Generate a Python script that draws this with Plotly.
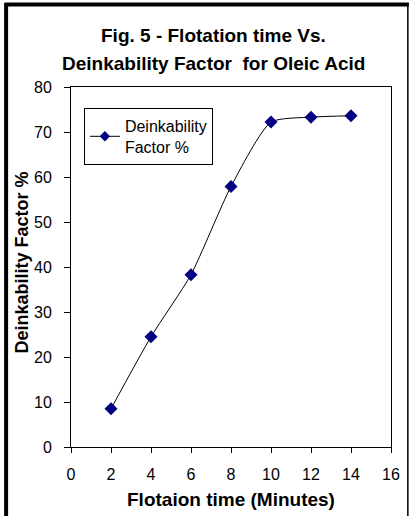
import plotly.graph_objects as go

flotation_time = [2, 4, 6, 8, 10, 12, 14]
deinkability = [8.5, 24.5, 38.3, 57.9, 72.2, 73.3, 73.6]
series_name = "Deinkability<br>Factor %"
x_ticks = [0, 2, 4, 6, 8, 10, 12, 14, 16]
y_ticks = [0, 10, 20, 30, 40, 50, 60, 70, 80]

W, H = 412, 516
L, R, T, B = 71, 18, 87, 69
pw, ph = W - L - R, H - T - B

def px(xp):
    return (xp - L) / pw

def py(yp):
    return (H - B - yp) / ph

fig = go.Figure()
fig.add_trace(go.Scatter(
    x=flotation_time, y=deinkability, name=series_name,
    mode="lines+markers",
    line=dict(color="black", width=1, shape="spline", smoothing=0.6),
    marker=dict(symbol="diamond", color="#000080", size=10),
    showlegend=False,
))
# legend entry (smaller marker, as in the original legend)
fig.add_trace(go.Scatter(
    x=[None], y=[None], name=series_name, mode="lines+markers",
    line=dict(color="black", width=1),
    marker=dict(symbol="diamond", color="#000080", size=8),
    showlegend=True,
))

font = "Arial, 'Liberation Sans', sans-serif"

def ann(text, x, y, size, angle=0):
    return dict(text=text, x=px(x), y=py(y), xref="paper", yref="paper",
                xanchor="center", yanchor="middle", showarrow=False,
                textangle=angle, font=dict(size=size))

fig.update_layout(
    width=W, height=H,
    margin=dict(l=L, r=R, t=T, b=B),
    paper_bgcolor="white", plot_bgcolor="white",
    font=dict(family=font, color="black", size=16),
    showlegend=True,
    legend=dict(x=px(84), y=py(108), xanchor="left", yanchor="top",
                bordercolor="black", borderwidth=1, bgcolor="white",
                font=dict(size=16), itemwidth=30, tracegroupgap=0),
    xaxis=dict(range=[0, 16], tickvals=x_ticks, showgrid=False, zeroline=False,
               showline=True, linecolor="black", linewidth=1, mirror=True,
               ticks="outside", ticklen=5, tickcolor="black",
               ticklabelstandoff=8, tickfont=dict(size=16)),
    yaxis=dict(range=[0, 80], tickvals=y_ticks, showgrid=False, zeroline=False,
               showline=True, linecolor="black", linewidth=1, mirror=True,
               ticks="outside", ticklen=6, tickcolor="black",
               ticklabelstandoff=9, tickfont=dict(size=16)),
    annotations=[
        ann("<b>Fig. 5 - Flotation time Vs.</b>", 215, 35, 19),
        ann("<b>Deinkability Factor\u00a0 for Oleic Acid</b>", 215, 63, 19),
        ann("<b>Deinkability Factor %</b>", 22, 262, 18, -90),
        ann("<b>Flotaion time (Minutes)</b>", 232, 499, 19),
    ],
    shapes=[
        dict(type="line", xref="paper", yref="paper", x0=px(5.5), x1=px(5.5),
             y0=py(3), y1=py(516), line=dict(color="black", width=4)),
        dict(type="line", xref="paper", yref="paper", x0=px(4), x1=px(412),
             y0=py(4.5), y1=py(4.5), line=dict(color="black", width=4)),
        dict(type="line", xref="paper", yref="paper", x0=px(411), x1=px(411),
             y0=py(3), y1=py(516), line=dict(color="black", width=1.5)),
    ],
)

fig.write_html("out.html")
